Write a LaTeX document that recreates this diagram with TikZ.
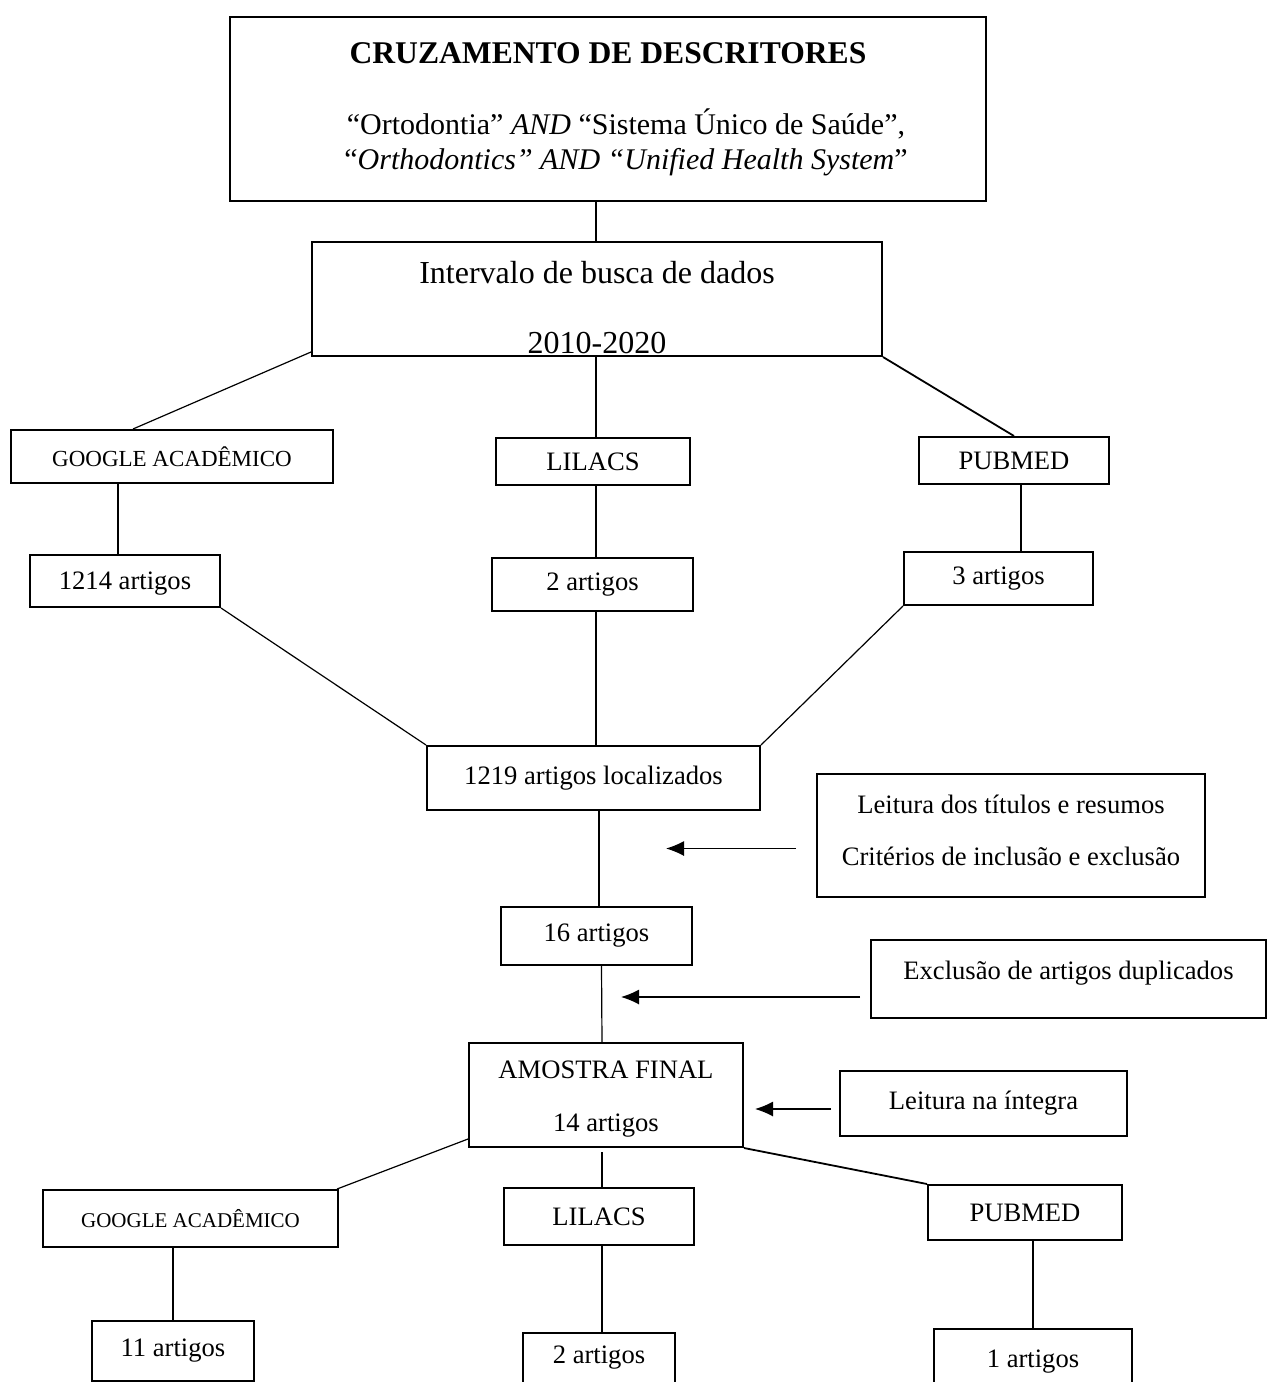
\documentclass[tikz,border=0pt]{standalone}
\usepackage{fontspec}
\setmainfont{Liberation Serif}
\usetikzlibrary{arrows.meta,calc}
\begin{document}
\begin{tikzpicture}[x=0.5pt,y=-0.5pt,
  box/.style={draw, line width=1pt, inner sep=0pt, align=center, anchor=north west,
    font=\fontsize{13.3pt}{16pt}\selectfont},
  conn/.style={line width=0.6pt},
  thickconn/.style={line width=0.9pt},
  arr/.style={line width=0.6pt,-{Latex[length=9pt,width=7.5pt]}}]
\useasboundingbox (0,0) rectangle (1266,1382);
\fill[white] (0,0) rectangle (1266,1382);

% boxes
\node[box, minimum width=378pt, minimum height=92pt,
  font=\fontsize{15pt}{17.5pt}\selectfont] (top) at (229,16)
  {{\fontsize{15.8pt}{17.5pt}\selectfont\bfseries CRUZAMENTO DE DESCRITORES}\\[18pt]
   \hspace*{18pt}“Ortodontia” \textit{AND} “Sistema Único de Saúde”,\\
   \hspace*{18pt}“\textit{Orthodontics” AND “Unified Health System}”};
\node[box, minimum width=285pt, minimum height=57pt,
  font=\fontsize{16pt}{18pt}\selectfont] (intv) at (311,241)
  {\rule{0pt}{20pt}Intervalo de busca de dados\\[17pt]2010-2020};

\node[box, minimum width=161pt, minimum height=26.5pt,
  font=\fontsize{11.5pt}{14pt}\selectfont] (ga1) at (10,429) {GOOGLE ACADÊMICO};
\node[box, minimum width=97pt, minimum height=23.5pt] (lil1) at (495,437) {LILACS};
\node[box, minimum width=95pt, minimum height=23.5pt] (pub1) at (918,436) {PUBMED};

\node[box, minimum width=95pt, minimum height=26pt] (a1214) at (29,554) {\rule{0pt}{11pt}1214 artigos};
\node[box, minimum width=100.5pt, minimum height=26.5pt] (a2) at (491,557) {2 artigos};
\node[box, minimum width=94.5pt, minimum height=26.5pt] (a3) at (903,551) {3 artigos};

\node[box, minimum width=166.5pt, minimum height=32pt] (loc) at (426,745) {1219 artigos localizados};
\node[box, minimum width=194pt, minimum height=61.5pt, text depth=5pt] (leit) at (816,773)
  {Leitura dos títulos e resumos\\[10pt]Critérios de inclusão e exclusão};

\node[box, minimum width=95.5pt, minimum height=29pt] (a16) at (500,906) {16 artigos};
\node[box, minimum width=197.5pt, minimum height=39pt, text depth=9pt] (excl) at (870,939)
  {Exclusão de artigos duplicados};

\node[box, minimum width=137pt, minimum height=52pt] (amo) at (468,1042)
  {\rule{0pt}{12.8pt}AMOSTRA FINAL\\[10.5pt]14 artigos};
\node[box, minimum width=143.5pt, minimum height=32.5pt] (integ) at (839,1070) {Leitura na íntegra};

\node[box, minimum width=147.5pt, minimum height=28.5pt,
  font=\fontsize{10.5pt}{13pt}\selectfont] (ga2) at (42,1189) {GOOGLE ACADÊMICO};
\node[box, minimum width=95pt, minimum height=28.5pt] (lil2) at (503,1187) {LILACS};
\node[box, minimum width=97pt, minimum height=27.5pt] (pub2) at (927,1184) {PUBMED};

\node[box, minimum width=81pt, minimum height=30pt] (a11) at (91,1320) {11 artigos};
\node[box, minimum width=76pt, text height=15pt, text depth=15pt] (a2b) at (522,1332) {2 artigos};
\node[box, minimum width=99pt, text height=19pt, text depth=13pt] (a1b) at (933,1328) {1 artigos};

% helper coordinates
\coordinate (vx) at (596,0);
\coordinate (vga) at (118,0);
\coordinate (vpb) at (1021,0);
\coordinate (vl) at (599,0);
\coordinate (ls) at (602,1152);

% connectors
\draw[conn] (top.south -| vx) -- (intv.north -| vx);
\draw[conn] ($(intv.south west)+(0,-5)$) -- ($(ga1.north west)+(123,0)$);
\draw[conn] (intv.south -| vx) -- (lil1.north -| vx);
\draw[thickconn] (intv.south east) -- (pub1.north);

\draw[conn] (ga1.south -| vga) -- (a1214.north -| vga);
\draw[conn] (lil1.south -| vx) -- (a2.north -| vx);
\draw[conn] (pub1.south -| vpb) -- (a3.north -| vpb);

\draw[conn] (a1214.south east) -- (loc.north west);
\draw[conn] (a2.south -| vx) -- (loc.north -| vx);
\draw[conn] (a3.south west) -- (loc.north east);

\draw[conn] (loc.south -| vl) -- (a16.north -| vl);
\draw[arr] ($(leit.west)+(-20,13)$) -- ++(-130,0);

\draw[conn] ($(a16.south)+(5,0)$) -- ($(amo.north)+(-4,0)$);
\draw[arr] ($(excl.west)+(-10,18)$) -- ++(-239,0);
\draw[arr] ($(integ.west)+(-8,5.5)$) -- ++(-76,0);

\draw[conn] ($(amo.south west)+(0,-9)$) -- ($(ga2.north east)+(-2,0)$);
\draw[thickconn] (ls) -- (lil2.north -| ls);
\draw[thickconn] (amo.south east) -- (pub2.north west);

\draw[conn] (ga2.south -| a11.north) -- (a11.north);
\draw[conn] (lil2.south -| ls) -- (a2b.north -| ls);
\draw[conn] (pub2.south -| a1b.north) -- (a1b.north);
\end{tikzpicture}
\end{document}
